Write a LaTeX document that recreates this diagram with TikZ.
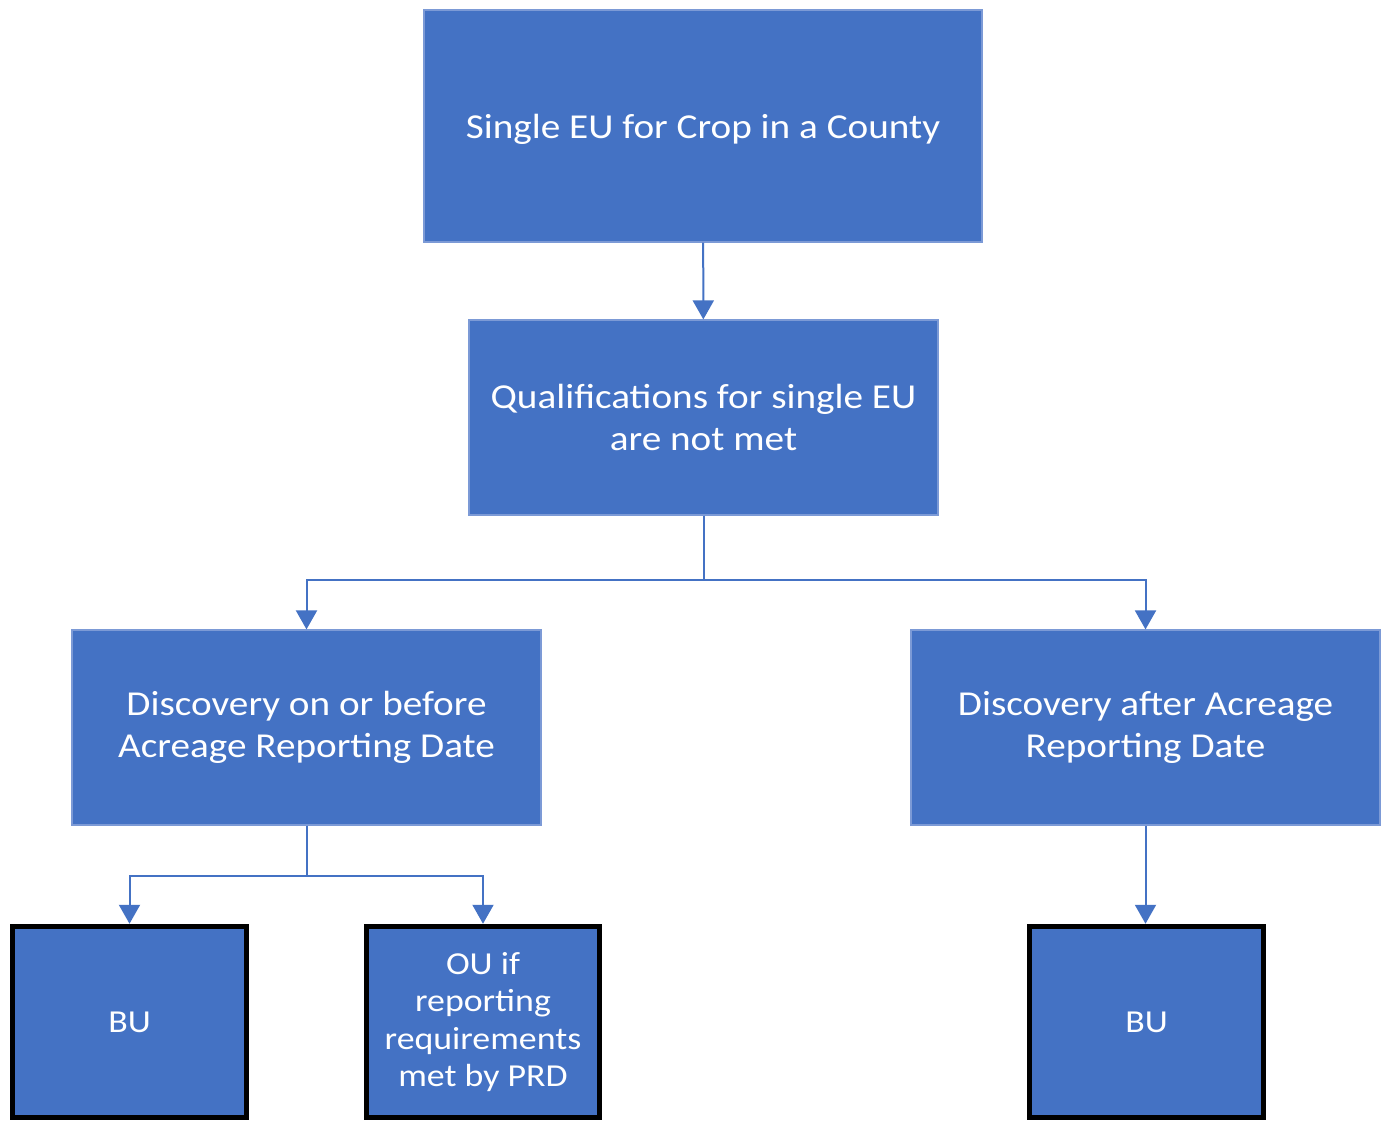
\documentclass[tikz,border=0pt]{standalone}
\usepackage{fontspec}
\setmainfont{Carlito}
\newfontfamily\diagfont[FakeStretch=1.12]{Carlito}
\usetikzlibrary{arrows.meta}
\definecolor{boxblue}{HTML}{4472C4}
\definecolor{edgeblue}{HTML}{7C9AD6}
\definecolor{linkblue}{HTML}{4472C4}
\begin{document}
\begin{tikzpicture}[x=1pt,y=-1pt,
  topbox/.style={rectangle, fill=boxblue, draw=edgeblue, line width=1.2pt, text=white,
    align=center, inner sep=0pt, font=\diagfont\fontsize{35}{42}\selectfont},
  leafbox/.style={rectangle, fill=boxblue, draw=black, line width=5.5pt, text=white,
    align=center, inner sep=0pt, font=\diagfont\fontsize{32}{37.5}\selectfont},
  link/.style={draw=linkblue, line width=2pt, -{Triangle[width=21pt,length=19pt]}}]
\useasboundingbox (0,0) rectangle (1390,1123);
\fill[white] (0,0) rectangle (1390,1123);

\node[topbox, text depth=0pt, minimum width=558pt, minimum height=232pt] (top) at (703,126) {Single EU for Crop in a County};
\node[topbox, minimum width=469pt, minimum height=195pt] (qual) at (703.5,417.5) {Qualifications for single EU\\are not met};
\node[topbox, minimum width=469pt, minimum height=195pt] (disc1) at (306.5,727.5) {Discovery on or before\\Acreage Reporting Date};
\node[topbox, minimum width=469pt, minimum height=195pt] (disc2) at (1145.5,727.5) {Discovery after Acreage\\Reporting Date};
\node[leafbox, minimum width=234pt, minimum height=191pt] (bu1) at (129.5,1022) {BU};
\node[leafbox, minimum width=233pt, minimum height=191pt] (ou) at (483,1022) {OU if\\reporting\\requirements\\met by PRD};
\node[leafbox, minimum width=234pt, minimum height=191pt] (bu2) at (1146.5,1022) {BU};

\draw[link] (top) -- (qual);
\draw[link] (qual.south) -- ++(0,64) -| (disc1.north);
\draw[link] (qual.south) -- ++(0,64) -| (disc2.north);
\draw[link] (disc1.south) -- ++(0,50) -| (bu1.north);
\draw[link] (disc1.south) -- ++(0,50) -| (ou.north);
\draw[link] (disc2.south) -- (disc2.south |- bu2.north);
\end{tikzpicture}
\end{document}
